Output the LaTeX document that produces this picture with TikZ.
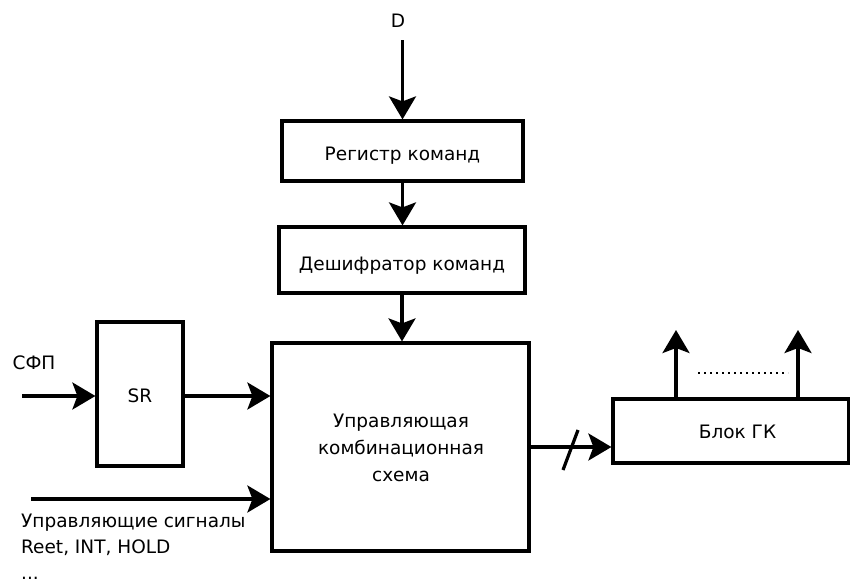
\documentclass[tikz,border=0pt]{standalone}
\usepackage{fontspec}
\setmainfont{DejaVu Sans}
\usetikzlibrary{arrows.meta}
\begin{document}
\begin{tikzpicture}[x=1pt,y=-1pt,
  blk/.style={draw,line width=3.2pt,inner sep=0pt},
  sig/.style={line width=3.2pt,-{Stealth[length=23pt,width=27pt,inset=5pt]}},
  txt/.style={font=\fontsize{18.5}{26}\selectfont,inner sep=0pt,anchor=base}]
\useasboundingbox (0,0) rectangle (850,582);
% blocks
\node[blk,minimum width=241pt,minimum height=60pt] (reg) at (402.5,151) {};
\node[blk,minimum width=246pt,minimum height=66pt] (dec) at (402,260) {};
\node[blk,minimum width=257pt,minimum height=208pt] (ucs) at (400.5,447) {};
\node[blk,minimum width=86pt,minimum height=144pt] (sr) at (140,394) {};
\node[blk,minimum width=236pt,minimum height=64pt] (gk) at (731,431) {};
% block labels
\node[txt] (regl) at (402.5,160) {Регистр команд};
\node[txt] (decl) at (402,270) {Дешифратор команд};
\node[txt] (ucs1) at (401,427) {Управляющая};
\node[txt] (ucs2) at (401,454) {комбинационная};
\node[txt] (ucs3) at (401,481) {схема};
\node[txt] (srl) at (140,402) {SR};
\node[txt] (gkl) at (737.5,438) {Блок ГК};
% data input
\node[txt] (d) at (398,27) {D};
\coordinate (din) at (402.5,40);
\draw[sig] (din) -- (reg.north);
\draw[sig] (reg.south) -- (reg.south |- dec.north);
\draw[sig] (dec.south) -- (dec.south |- ucs.north);
% synchronisation input through SR
\node[txt] (sfp) at (34,369) {СФП};
\coordinate (sfpin) at (22,396);
\draw[sig] (sfpin) -- (sfpin -| sr.west);
\draw[sig] (sr.east |- sfpin) -- (sfpin -| ucs.west);
% control signals
\coordinate (ctlin) at (31,499);
\draw[sig] (ctlin) -- (ctlin -| ucs.west);
\node[txt,anchor=base west] (ctl1) at (21,527) {Управляющие сигналы};
\node[txt,anchor=base west] (ctl2) at (21,553) {Reet, INT, HOLD};
\node[txt,anchor=base west] (ctl3) at (21,579) {...};
% bus to the command generator block
\coordinate (bus) at (529,447);
\draw[sig] (bus) -- (bus -| gk.west);
\coordinate (sl1) at (563,470);
\coordinate (sl2) at (578,430);
\draw[line width=3.2pt] (sl1) -- (sl2);
% outputs
\coordinate (o1) at (676,330);
\coordinate (o2) at (798,330);
\draw[sig] (o1 |- gk.north) -- (o1);
\draw[sig] (o2 |- gk.north) -- (o2);
\coordinate (dt1) at (698,373);
\coordinate (dt2) at (788,373);
\draw[line width=2pt,dash pattern=on 2pt off 4pt] (dt1) -- (dt2);
\end{tikzpicture}
\end{document}
